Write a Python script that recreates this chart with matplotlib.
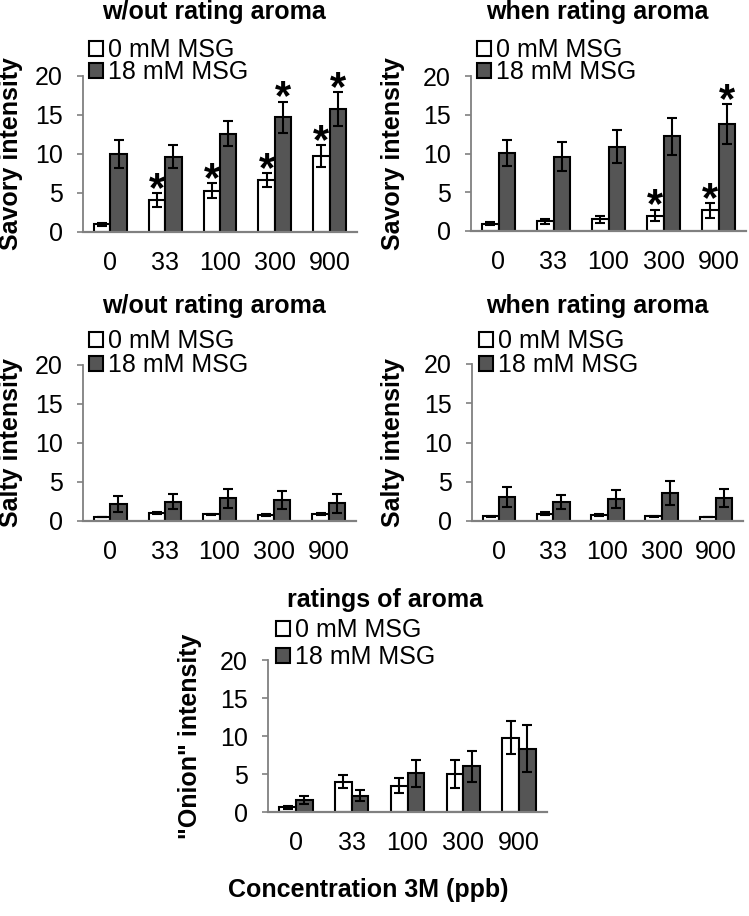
import numpy as np
import matplotlib
matplotlib.use('Agg')
import matplotlib.pyplot as plt

plt.rcParams['font.family'] = ['Liberation Sans', 'DejaVu Sans']

conc = ['0', '33', '100', '300', '900']
legend_labels = ['0 mM MSG', '18 mM MSG']

# savory, w/out rating aroma
sav_wo_0 = [1.0, 4.1, 5.3, 6.65, 9.7]
sav_wo_0_err = [0.2, 0.9, 1.0, 0.85, 1.4]
sav_wo_18 = [10.0, 9.65, 12.6, 14.7, 15.75]
sav_wo_18_err = [1.8, 1.45, 1.6, 2.0, 2.15]
sav_wo_star0 = [False, True, True, True, True]
sav_wo_star18 = [False, False, False, True, True]

# savory, when rating aroma
sav_w_0 = [0.95, 1.25, 1.5, 2.0, 2.65]
sav_w_0_err = [0.2, 0.35, 0.5, 0.75, 0.95]
sav_w_18 = [10.1, 9.6, 10.9, 12.2, 13.8]
sav_w_18_err = [1.7, 1.9, 2.1, 2.35, 2.55]
sav_w_star0 = [False, False, False, True, True]
sav_w_star18 = [False, False, False, False, True]

# salty, w/out rating aroma
salt_wo_0 = [0.5, 1.0, 0.85, 0.75, 0.9]
salt_wo_0_err = [0.05, 0.15, 0.1, 0.1, 0.1]
salt_wo_18 = [2.15, 2.5, 2.9, 2.65, 2.25]
salt_wo_18_err = [1.05, 1.0, 1.2, 1.15, 1.2]

# salty, when rating aroma
salt_w_0 = [0.6, 0.95, 0.75, 0.6, 0.5]
salt_w_0_err = [0.05, 0.15, 0.1, 0.05, 0.05]
salt_w_18 = [3.05, 2.4, 2.8, 3.6, 2.9]
salt_w_18_err = [1.3, 0.9, 1.1, 1.5, 1.15]

# onion, ratings of aroma
onion_0 = [0.6, 4.0, 3.45, 5.0, 9.8]
onion_0_err = [0.15, 0.85, 1.0, 1.9, 2.2]
onion_18 = [1.6, 2.15, 5.1, 6.0, 8.35]
onion_18_err = [0.5, 0.75, 1.8, 2.0, 3.05]

W, H = 749, 916
fig = plt.figure(figsize=(W / 100, H / 100), dpi=100)

def px_axes(left, right, top, bottom):
    return fig.add_axes([left / W, 1 - bottom / H, (right - left) / W, (bottom - top) / H])

def panel(ax, v0, e0, v18, e18, title, title_xy, ylabel, ylab_x, leg_xy, leg_sp,
          star0=None, star18=None):
    x = np.arange(len(conc))
    w = 0.3
    ekw = dict(elinewidth=1.5, capthick=1.5, ecolor='black')
    ax.bar(x - w / 2, v0, w, yerr=e0, color='white', edgecolor='black', linewidth=1.5,
           capsize=3.8, error_kw=ekw, label=legend_labels[0])
    ax.bar(x + w / 2, v18, w, yerr=e18, color='#555555', edgecolor='black', linewidth=1.5,
           capsize=3.8, error_kw=ekw, label=legend_labels[1])
    # significance stars
    for i in range(len(conc)):
        if star0 is not None and star0[i]:
            ax.text(x[i] - w / 2, v0[i] + e0[i] - 1.0, '*', ha='center', va='baseline',
                    fontsize=30, fontweight='bold')
        if star18 is not None and star18[i]:
            ax.text(x[i] + w / 2, v18[i] + e18[i] - 1.0, '*', ha='center', va='baseline',
                    fontsize=30, fontweight='bold')
    ax.set_xlim(-0.5, 4.5)
    ax.set_ylim(0, 20)
    ax.set_yticks([0, 5, 10, 15, 20])
    ax.set_xticks(x)
    ax.set_xticklabels(conc)
    ax.tick_params(axis='x', length=0, pad=14, labelsize=18)
    ax.tick_params(axis='y', length=4.5, width=1.2, color='#808080', pad=10, labelsize=18)
    for s in ['top', 'right']:
        ax.spines[s].set_visible(False)
    ax.spines['left'].set_color('#808080')
    ax.spines['left'].set_linewidth(1.3)
    ax.spines['bottom'].set_color('#808080')
    ax.spines['bottom'].set_linewidth(1.6)
    ax.set_ylabel(ylabel, fontsize=18, fontweight='bold')
    bb = ax.get_position()
    ax.yaxis.set_label_coords((ylab_x / W - bb.x0) / bb.width, 0.5)
    fig.text(title_xy[0] / W, 1 - title_xy[1] / H, title, ha='center', va='center',
             fontsize=18, fontweight='bold')
    ax.legend(loc='upper left', bbox_to_anchor=(leg_xy[0] / W, 1 - leg_xy[1] / H),
              bbox_transform=fig.transFigure, frameon=False, fontsize=18,
              handlelength=0.56, handleheight=0.56, handletextpad=0.2,
              labelspacing=leg_sp, borderpad=0, borderaxespad=0)

ax1 = px_axes(83, 357, 76, 232)
panel(ax1, sav_wo_0, sav_wo_0_err, sav_wo_18, sav_wo_18_err, 'w/out rating aroma', (214, 12),
      'Savory intensity', 23, (89, 38), -0.08, sav_wo_star0, sav_wo_star18)

ax2 = px_axes(471, 746, 76, 231)
panel(ax2, sav_w_0, sav_w_0_err, sav_w_18, sav_w_18_err, 'when rating aroma', (597, 12),
      'Savory intensity', 405, (477, 38), -0.08, sav_w_star0, sav_w_star18)

ax3 = px_axes(83, 356, 365, 521)
panel(ax3, salt_wo_0, salt_wo_0_err, salt_wo_18, salt_wo_18_err, 'w/out rating aroma', (214, 306),
      'Salty intensity', 23, (89, 329), 0.0)

ax4 = px_axes(472, 743, 364, 521)
panel(ax4, salt_w_0, salt_w_0_err, salt_w_18, salt_w_18_err, 'when rating aroma', (597, 306),
      'Salty intensity', 405, (479, 329), 0.0)

ax5 = px_axes(268, 547, 660, 812)
panel(ax5, onion_0, onion_0_err, onion_18, onion_18_err, 'ratings of aroma', (385, 600),
      '"Onion" intensity', 202, (276, 618), 0.12)

fig.text(368 / W, 1 - 890 / H, 'Concentration 3M (ppb)', ha='center', va='center',
         fontsize=18, fontweight='bold')

fig.savefig('out.png', dpi=100)
